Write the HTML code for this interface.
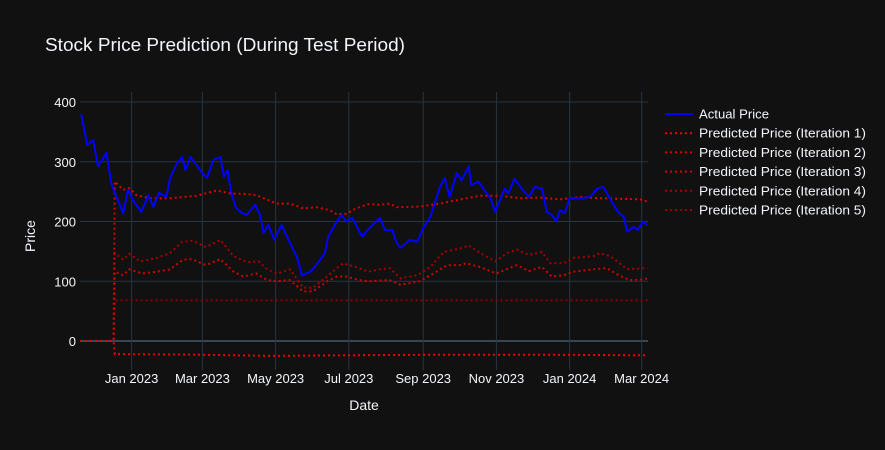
<!DOCTYPE html>
<html><head><meta charset="utf-8"><style>
html,body{margin:0;padding:0;background:#111111;}
svg{display:block;font-family:"Liberation Sans",sans-serif;}
</style></head><body>
<svg id="chart" width="885" height="450" viewBox="0 0 885 450">
<rect x="0" y="0" width="885" height="450" fill="#111111"/>
<text x="45" y="51" fill="#f2f5fa" font-size="18" textLength="360" lengthAdjust="spacingAndGlyphs">Stock Price Prediction (During Test Period)</text>
<g id="grid"></g>
<g id="series"></g>
<g id="axes"></g>
<text x="364" y="410" fill="#f2f5fa" font-size="14" text-anchor="middle">Date</text>
<text x="0" y="0" fill="#f2f5fa" font-size="14" text-anchor="middle" transform="translate(35,236) rotate(-90)">Price</text>
<g id="legend"></g>
</svg>
<script>
// Data: day offsets from 2022-11-19
const actualDays = [1,6,11,15,22,26,29,36,40,44,51,57,61,66,72,75,81,85,88,92,97,103,106,111,117,120,123,126,130,135,139,146,150,153,157,162,165,168,175,181,185,192,198,204,207,214,218,222,227,235,242,250,254,260,264,267,275,281,286,292,300,304,308,314,318,324,326,332,336,342,346,350,354,357,362,368,374,379,385,389,393,397,400,404,408,417,425,431,436,444,449,453,456,461,465,469,473];
const actualPrice = [380,328,336,292,315,264,248,214,253,236,216,244,225,248,241,273,298,308,286,308,295,278,273,303,308,275,286,248,223,214,211,228,211,181,194,169,183,194,164,139,110,116,130,147,175,200,211,200,206,175,191,206,186,186,164,156,169,166,189,208,258,273,241,281,269,292,261,267,255,239,216,236,255,247,272,255,241,258,255,216,211,200,219,214,239,239,241,255,258,230,214,208,183,191,186,200,194];

const iter1Days = [0,28,29,100,160,220,300,380,473];
const iter1Price = [0,0,-22,-23,-25,-24,-23,-23,-24];

const iter2Days = [0,28,29,36,41,47,58,75,86,97,114,125,139,147,164,175,186,197,208,214,222,230,240,250,258,264,283,300,317,333,350,367,383,400,417,433,450,467,473];
const iter2Price = [0,0,267,253,256,244,239,239,241,243,252,247,246,244,230,230,222,224,219,212,213,222,229,228,230,224,225,230,237,243,243,239,240,237,241,239,238,237,233];

const iter3Days = [0,28,29,36,41,52,64,75,86,93,105,117,128,136,147,156,164,175,186,194,206,214,222,233,240,258,267,283,292,306,317,322,333,347,364,374,385,393,403,411,428,439,449,458,469,473];
const iter3Price = [0,0,116,110,120,113,116,120,136,137,127,137,116,108,113,102,100,102,83,83,100,108,108,102,100,102,94,100,110,127,127,130,124,113,127,117,124,108,110,116,120,122,110,102,103,105];

const iter4Days = [0,28,29,36,41,50,64,75,85,94,105,117,128,139,149,156,164,175,186,194,206,214,219,230,240,250,258,267,281,292,303,317,324,333,346,356,364,374,385,392,403,411,428,433,442,456,473];
const iter4Price = [0,0,147,136,146,133,139,147,166,168,157,169,142,132,133,120,113,120,89,89,108,122,130,124,116,120,122,105,110,124,149,155,160,148,133,147,153,144,149,130,130,139,142,147,142,120,122];

const iter5Days = [0,28,29,200,473];
const iter5Price = [0,0,68,68,68];

const yTicks = [0,100,200,300,400];
const xTickLabels = ["Jan 2023","Mar 2023","May 2023","Jul 2023","Sep 2023","Nov 2023","Jan 2024","Mar 2024"];
const xTickDays = [43,102,163,224,286,347,408,468];
const legendLabels = ["Actual Price","Predicted Price (Iteration 1)","Predicted Price (Iteration 2)","Predicted Price (Iteration 3)","Predicted Price (Iteration 4)","Predicted Price (Iteration 5)"];

const NS="http://www.w3.org/2000/svg";
const L=80,R=648,T=92,B=370;
const X0=0,X1=473.3;
const Y0=0,Y1=400,PY0=341,PY1=102;
function xs(d){return L+(d-X0)/(X1-X0)*(R-L);}
function ys(v){return PY0+(v-Y0)/(Y1-Y0)*(PY1-PY0);}
function mk(tag,attrs,parent){const e=document.createElementNS(NS,tag);for(const k in attrs)e.setAttribute(k,attrs[k]);parent.appendChild(e);return e;}

const grid=document.getElementById('grid');
yTicks.forEach((t,i)=>{
  const ln=mk('line',{x1:L,x2:R,y1:ys(t),y2:ys(t),stroke:t===0?'#3a4453':'#283442','stroke-width':t===0?2:1},grid);
  
  
  const tx=mk('text',{x:L-4,y:ys(t)+5,fill:'#f2f5fa','font-size':13,'text-anchor':'end'},document.getElementById('axes'));
  tx.textContent=t;
  
  
});
xTickDays.forEach((d,i)=>{
  const ln=mk('line',{x1:xs(d),x2:xs(d),y1:T,y2:B,stroke:'#283442','stroke-width':1},grid);
  
  
  const tx=mk('text',{x:xs(d),y:383,fill:'#f2f5fa','font-size':13,'text-anchor':'middle'},document.getElementById('axes'));
  tx.textContent=xTickLabels[i];
  
  
});

const seriesG=document.getElementById('series');
function path(days,vals){return days.map((d,i)=>(i?'L':'M')+xs(d).toFixed(1)+','+ys(vals[i]).toFixed(1)).join(' ');}
const preds=[[iter5Days,iter5Price,'#900000'],[iter4Days,iter4Price,'#a80000'],[iter3Days,iter3Price,'#d40000'],[iter2Days,iter2Price,'#e00000'],[iter1Days,iter1Price,'#f00000']];
const predNames=['predicted-iteration-5','predicted-iteration-4','predicted-iteration-3','predicted-iteration-2','predicted-iteration-1'];
preds.forEach((p,i)=>{
  const e=mk('path',{d:path(p[0],p[1]),fill:'none',stroke:p[2],'stroke-width':2,'stroke-dasharray':'2,3'},seriesG);
  
  
});
const act=mk('path',{d:path(actualDays,actualPrice),fill:'none',stroke:'#0000ff','stroke-width':2,'stroke-linejoin':'round'},seriesG);



const leg=document.getElementById('legend');
const legColors=['#0000ff','#f00000','#e00000','#d40000','#a80000','#900000'];
const legWidths=[70,167,167,167,167,167];
legendLabels.forEach((lab,i)=>{
  const y=114+i*19.2;
  const g=mk('g',{},leg);
  
  
  mk('line',{x1:665,x2:693,y1:y,y2:y,stroke:legColors[i],'stroke-width':2,'stroke-dasharray':i?'2,3':'none'},g);
  const t=mk('text',{x:699,y:y+4.5,fill:'#f2f5fa','font-size':13,textLength:legWidths[i],lengthAdjust:'spacingAndGlyphs'},g);
  t.textContent=lab;
});
</script>
</body></html>
